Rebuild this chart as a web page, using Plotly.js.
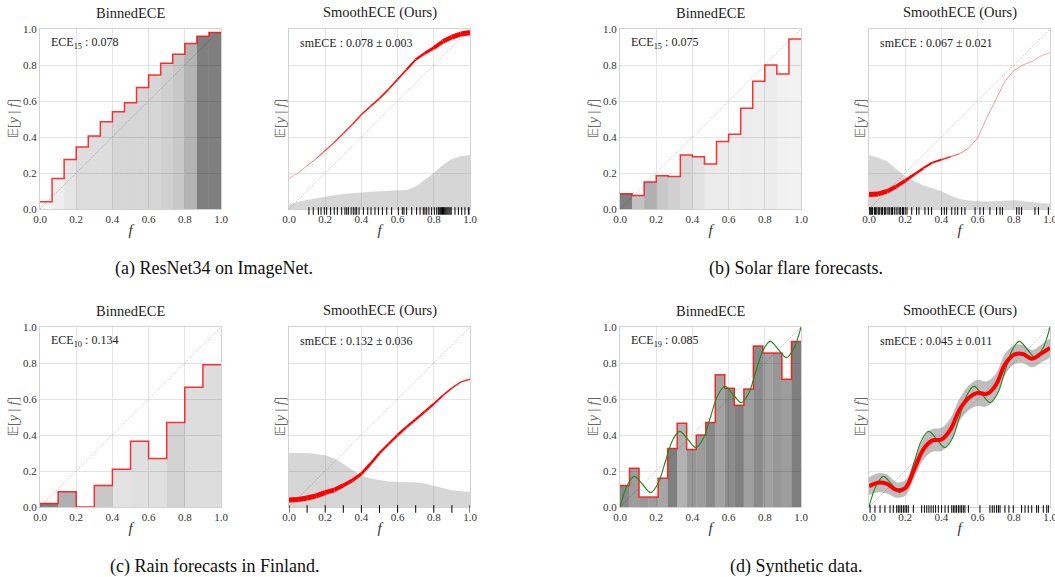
<!DOCTYPE html>
<html><head><meta charset="utf-8">
<script src="https://cdn.plot.ly/plotly-3.0.1.min.js"></script>
<style>html,body{margin:0;padding:0;background:#fff}</style>
</head><body>
<div id="chart" style="width:1055px;height:577px"></div>
<script>
// ================= DATA =================
const gridF = [0,0.05,0.1,0.15,0.2,0.25,0.3,0.35,0.4,0.45,0.5,0.55,0.6,0.65,0.7,0.75,0.8,0.85,0.9,0.95,1];

// (a) ResNet34 on ImageNet
const binA = [0.04,0.17,0.275,0.345,0.405,0.485,0.54,0.59,0.675,0.745,0.81,0.86,0.92,0.96,0.98];
const binWeightA = [0.06,0.13,0.2,0.27,0.27,0.27,0.32,0.32,0.32,0.32,0.37,0.43,0.59,1,1];
const smoothA = [0.17,0.2,0.24,0.28,0.325,0.37,0.42,0.47,0.525,0.57,0.615,0.665,0.72,0.775,0.83,0.865,0.895,0.93,0.955,0.972,0.98];
const densA = [0.024,0.04,0.05,0.06,0.07,0.077,0.083,0.088,0.093,0.096,0.098,0.1,0.1,0.105,0.125,0.16,0.2,0.245,0.278,0.295,0.3];
const rugA = [0.11,0.134,0.162,0.177,0.195,0.208,0.23,0.25,0.267,0.291,0.309,0.319,0.328,0.343,0.355,0.365,0.374,0.387,0.411,0.435,0.453,0.475,0.494,0.516,0.54,0.567,0.604,0.626,0.635,0.65,0.678,0.705,0.724,0.742,0.751,0.761,0.773,0.788,0.803,0.816,0.825,0.83,0.836,0.842,0.848,0.854,0.86,0.866,0.872,0.878,0.884,0.89,0.896,0.917,0.936,0.954,0.972,0.991,1.0];
const eceA = 'ECE<sub>15</sub> : 0.078';
const smeceA = 'smECE : 0.078 ± 0.003';

// (b) Solar flare forecasts
const binB = [0.085,0.075,0.15,0.185,0.18,0.30,0.29,0.25,0.375,0.415,0.56,0.71,0.80,0.75,0.945];
const binWeightB = [1,0.47,0.62,0.43,0.37,0.3,0.23,0.16,0.15,0.13,0.15,0.13,0.15,0.11,0.1];
const smoothB = [0.08,0.083,0.098,0.125,0.157,0.192,0.227,0.258,0.274,0.29,0.307,0.338,0.394,0.505,0.606,0.708,0.769,0.8,0.82,0.85,0.87];
const densB = [0.3,0.285,0.265,0.225,0.18,0.155,0.13,0.115,0.098,0.075,0.055,0.047,0.043,0.042,0.043,0.046,0.048,0.045,0.038,0.032,0.03];
const rugB = [0,0.005,0.01,0.015,0.02,0.03,0.035,0.04,0.05,0.055,0.06,0.07,0.075,0.085,0.09,0.1,0.11,0.115,0.125,0.13,0.14,0.15,0.16,0.17,0.175,0.185,0.19,0.2,0.21,0.236,0.263,0.276,0.309,0.328,0.346,0.401,0.416,0.429,0.457,0.475,0.49,0.512,0.53,0.586,0.613,0.632,0.668,0.705,0.724,0.737,0.816,0.829,0.843,0.917,0.936,0.991];
const eceB = 'ECE<sub>15</sub> : 0.075';
const smeceB = 'smECE : 0.067 ± 0.021';

// (c) Rain forecasts in Finland
const binC = [0.02,0.085,0,0.12,0.21,0.365,0.27,0.47,0.665,0.79];
const binWeightC = [1,0.62,0,0.43,0.22,0.24,0.24,0.35,0.27,0.27];
const smoothC = [0.039,0.042,0.05,0.062,0.08,0.095,0.12,0.148,0.185,0.24,0.3,0.35,0.4,0.445,0.487,0.53,0.573,0.62,0.66,0.695,0.71];
const densC = [0.3,0.3,0.3,0.295,0.287,0.27,0.24,0.205,0.175,0.158,0.148,0.142,0.139,0.139,0.138,0.13,0.118,0.105,0.093,0.087,0.085];
const rugC = [0,0.1,0.2,0.3,0.4,0.5,0.6,0.7,0.8,0.9,1.0];
const eceC = 'ECE<sub>10</sub> : 0.134';
const smeceC = 'smECE : 0.132 ± 0.036';

// (d) Synthetic data
const binD = [0.12,0.215,0.055,0.055,0.16,0.325,0.465,0.32,0.4,0.47,0.735,0.66,0.565,0.655,0.895,0.855,0.855,0.71,0.92];
const binWeightD = [0.94,0.77,0.81,0.77,0.7,1,0.6,0.81,0.77,0.92,0.72,0.9,1,0.75,0.92,0.74,0.81,0.77,1];
const smoothD = [0.116,0.135,0.128,0.095,0.105,0.21,0.32,0.37,0.375,0.43,0.54,0.606,0.634,0.628,0.676,0.79,0.846,0.85,0.824,0.852,0.884];
const bandUpperD = [0.165,0.188,0.18,0.138,0.148,0.258,0.378,0.433,0.44,0.493,0.603,0.674,0.707,0.698,0.739,0.848,0.899,0.9,0.872,0.902,0.937];
const bandLowerD = [0.066,0.082,0.075,0.052,0.062,0.162,0.262,0.307,0.311,0.367,0.477,0.538,0.561,0.558,0.613,0.732,0.793,0.8,0.776,0.802,0.831];
const trueX = [0,0.04,0.08,0.125,0.17,0.21,0.25,0.29,0.33,0.375,0.42,0.46,0.5,0.54,0.58,0.625,0.67,0.71,0.75,0.79,0.83,0.875,0.92,0.96,1.0];
const trueY = [0,0.12,0.17,0.125,0.08,0.13,0.25,0.37,0.42,0.375,0.33,0.38,0.5,0.62,0.67,0.625,0.58,0.63,0.75,0.87,0.92,0.875,0.83,0.88,1.0];
const rugD = [0.006,0.033,0.061,0.088,0.116,0.134,0.153,0.162,0.171,0.18,0.19,0.199,0.208,0.217,0.245,0.291,0.306,0.319,0.331,0.343,0.355,0.368,0.383,0.401,0.42,0.438,0.457,0.466,0.475,0.484,0.494,0.503,0.512,0.521,0.53,0.549,0.613,0.668,0.681,0.692,0.705,0.715,0.724,0.751,0.773,0.797,0.843,0.862,0.88,0.899,0.926,0.936,0.963,0.982,0.991];
const eceD = 'ECE<sub>19</sub> : 0.085';
const smeceD = 'smECE : 0.045 ± 0.011';

const panelTitles = ['BinnedECE', 'SmoothECE (Ours)'];
const captions = ['(a) ResNet34 on ImageNet.', '(b) Solar flare forecasts.', '(c) Rain forecasts in Finland.', '(d) Synthetic data.'];
const yLabel = '𝔼[<i>y</i> | <i>f</i>]';
const xLabel = '<i>f</i>';

// ================= LAYOUT / STYLE =================
const W = 1055, H = 577;
const SERIF = 'Liberation Serif';
const boxes = [
  {x:[40,221], y:[29,209]},  {x:[289,470], y:[29,209]},
  {x:[620,801], y:[29,209]}, {x:[869,1050], y:[29,209]},
  {x:[40,221], y:[327,507]}, {x:[289,470], y:[327,507]},
  {x:[620,801], y:[327,507]},{x:[869,1050], y:[327,507]}
];
const captionPos = [{x:214,y:268},{x:796,y:268},{x:214,y:566},{x:796,y:566}];

const traces = [];
const annotations = [];
const shapes = [];
const layout = {
  width: W, height: H, margin:{l:0,r:0,t:0,b:0},
  paper_bgcolor:'#fff', plot_bgcolor:'#fff', showlegend:false,
  annotations, shapes
};

function axName(k, t) { return t + (k === 1 ? '' : k); }

boxes.forEach((b, i) => {
  const k = i + 1;
  const isLeft = i % 2 === 0;
  const common = {
    range:[0,1], dtick:0.2, tick0:0, tickformat:'.1f', showgrid:true,
    gridcolor:'#e4e4e4', gridwidth:1, zeroline:false, showline:true,
    linecolor:'#d2d2d2', linewidth:1, mirror:true, ticks:'', fixedrange:true,
    ticklabeloverflow:'allow',
    tickfont:{family:SERIF, size:11, color:'#333'}
  };
  layout['xaxis' + (k === 1 ? '' : k)] = Object.assign({}, common, {
    domain:[b.x[0]/W, b.x[1]/W], anchor: axName(k,'y'),
    title:{text:xLabel, font:{family:SERIF, size:15, color:'#333'}, standoff:0}
  });
  layout['yaxis' + (k === 1 ? '' : k)] = Object.assign({}, common, {
    domain:[1 - b.y[1]/H, 1 - b.y[0]/H], anchor: axName(k,'x'),
    showticklabels: isLeft
  });
  // y-axis label (rotated text next to the axis)
  annotations.push({
    text: yLabel, xref:'paper', yref:'paper', textangle:-90,
    x:(b.x[0] - (isLeft ? 27 : 9))/W, y:1 - (b.y[0]+b.y[1])/2/H,
    xanchor:'center', yanchor:'middle', showarrow:false,
    font:{family:SERIF, size:14, color:'#666'}
  });
  annotations.push({
    text: panelTitles[i % 2], xref:'paper', yref:'paper',
    x:(b.x[0]+b.x[1])/2/W, y:1 - b.y[0]/H, yanchor:'bottom', xanchor:'center',
    yshift:6, showarrow:false, font:{family:SERIF, size:14.5, color:'#222'}
  });
});

captions.forEach((c, i) => {
  annotations.push({
    text:c, xref:'paper', yref:'paper', x:captionPos[i].x/W, y:1 - captionPos[i].y/H,
    xanchor:'center', yanchor:'middle', showarrow:false,
    font:{family:SERIF, size:18, color:'#111'}
  });
});

function diag(xa, ya) {
  traces.push({type:'scatter', mode:'lines', x:[0,1], y:[0,1], xaxis:xa, yaxis:ya,
    line:{color:'rgba(0,0,0,0.4)', width:0.7, dash:'1px,1.5px'}, hoverinfo:'skip'});
}

function binned(k, vals, weights, ece) {
  const xa = axName(k,'x'), ya = axName(k,'y');
  const n = vals.length;
  traces.push({type:'bar', x: vals.map((_, j) => (j + 0.5)/n), y: vals, width: 1/n,
    marker:{color: weights.map(w => `rgba(0,0,0,${(0.5*w).toFixed(3)})`), line:{width:0}},
    xaxis:xa, yaxis:ya, hoverinfo:'skip'});
  diag(xa, ya);
  traces.push({type:'scatter', mode:'lines', x: vals.map((_, j) => j/n).concat([1]), y: vals.concat([vals[n-1]]),
    xaxis:xa, yaxis:ya, line:{shape:'hv', color:'rgba(255,0,0,0.8)', width:1.5}, hoverinfo:'skip'});
  annotations.push({text:ece, xref:xa, yref:ya, x:0.05, y:0.92, xanchor:'left', yanchor:'middle',
    showarrow:false, font:{family:SERIF, size:12, color:'#222'}});
}

function rug(k, vals) {
  vals.forEach(v => shapes.push({type:'line', xref:axName(k,'x'), yref:axName(k,'y') + ' domain',
    x0:v, x1:v, y0:0.01, y1:-0.032, line:{color:'#000', width:1}}));
}

function smooth(k, curve, dens, rugVals, smece) {
  const xa = axName(k,'x'), ya = axName(k,'y');
  traces.push({type:'scatter', mode:'lines', x:gridF, y:dens, fill:'tozeroy',
    fillcolor:'rgba(120,120,120,0.3)', line:{width:0, color:'rgba(0,0,0,0)'}, xaxis:xa, yaxis:ya, hoverinfo:'skip'});
  diag(xa, ya);
  for (let j = 0; j < gridF.length - 1; j++) {
    const d = (dens[j] + dens[j+1]) / 2;
    const w = Math.max(0.8, 17 * d);
    const a = Math.min(1, 0.15 + 8 * d);
    traces.push({type:'scatter', mode:'lines', x:[gridF[j], gridF[j+1]], y:[curve[j], curve[j+1]],
      xaxis:xa, yaxis:ya, line:{color:`rgba(255,0,0,${a.toFixed(3)})`, width:w}, hoverinfo:'skip'});
  }
  rug(k, rugVals);
  annotations.push({text:smece, xref:xa, yref:ya, x:0.05, y:0.92, xanchor:'left', yanchor:'middle',
    showarrow:false, font:{family:SERIF, size:12, color:'#222'}});
}

binned(1, binA, binWeightA, eceA);
smooth(2, smoothA, densA, rugA, smeceA);
binned(3, binB, binWeightB, eceB);
smooth(4, smoothB, densB, rugB, smeceB);
binned(5, binC, binWeightC, eceC);
smooth(6, smoothC, densC, rugC, smeceC);
binned(7, binD, binWeightD, eceD);
traces.push({type:'scatter', mode:'lines', x:trueX, y:trueY, xaxis:'x7', yaxis:'y7',
  line:{color:'#1e8a1e', width:1.1, shape:'spline'}, hoverinfo:'skip'});

// (d) smooth panel
traces.push({type:'scatter', mode:'lines', x:gridF, y:bandLowerD, xaxis:'x8', yaxis:'y8',
  line:{width:0, color:'rgba(0,0,0,0)', shape:'spline'}, hoverinfo:'skip'});
traces.push({type:'scatter', mode:'lines', x:gridF, y:bandUpperD, xaxis:'x8', yaxis:'y8', fill:'tonexty',
  fillcolor:'rgba(110,110,110,0.45)', line:{width:0, color:'rgba(0,0,0,0)', shape:'spline'}, hoverinfo:'skip'});
diag('x8', 'y8');
traces.push({type:'scatter', mode:'lines', x:trueX, y:trueY, xaxis:'x8', yaxis:'y8',
  line:{color:'#1e8a1e', width:1.1, shape:'spline'}, hoverinfo:'skip'});
traces.push({type:'scatter', mode:'lines', x:gridF, y:smoothD, xaxis:'x8', yaxis:'y8',
  line:{color:'#ff0000', width:4, shape:'spline'}, hoverinfo:'skip'});
rug(8, rugD);
annotations.push({text:smeceD, xref:'x8', yref:'y8', x:0.05, y:0.92, xanchor:'left', yanchor:'middle',
  showarrow:false, font:{family:SERIF, size:12, color:'#222'}});

Plotly.newPlot('chart', traces, layout, {displayModeBar:false});
</script>
</body></html>
